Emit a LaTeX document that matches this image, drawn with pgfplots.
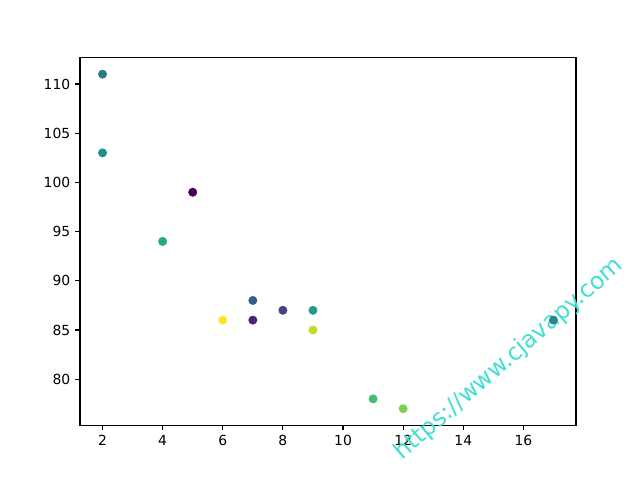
\documentclass[border=0pt]{standalone}
\usepackage{pgfplots}
\pgfplotsset{compat=1.18}
\usepackage{fontspec}
\setmainfont{DejaVu Sans}
\definecolor{wm}{HTML}{40E0D0}
\begin{document}
\begin{tikzpicture}
\begin{axis}[
  scale only axis,
  width=357.12bp, height=264.96bp,
  xmin=1.25, xmax=17.75, ymin=75.3, ymax=112.7,
  xtick={2,4,...,16}, ytick={80,85,...,110},
  xtick pos=bottom, ytick pos=left,
  tick align=outside, major tick length=3.5bp,
  tick style={black, line width=0.8bp},
  axis line style={line width=0.8bp},
  tick label style={font=\fontsize{10bp}{12bp}\selectfont},
  /pgf/number format/assume math mode=true,
  clip=false,
  colormap/viridis,
  point meta min=0, point meta max=100,
]
\addplot[scatter, only marks, mark=*, mark size=3bp, point meta=explicit,
  scatter/use mapped color={draw=mapped color, fill=mapped color}]
  table[meta=c] {
x y c
5 99 0
7 86 10
8 87 20
7 88 30
2 111 40
17 86 45
2 103 50
9 87 55
4 94 60
11 78 70
12 77 80
9 85 90
6 86 100
};
\path (rel axis cs:-0.16129,-0.1429) rectangle (rel axis cs:1.12903,1.156);
\node[text=wm, rotate=41, font=\fontsize{17bp}{20bp}\selectfont] at (rel axis cs:0.865,0.18) {https://www.cjavapy.com};
\end{axis}
\end{tikzpicture}
\end{document}
